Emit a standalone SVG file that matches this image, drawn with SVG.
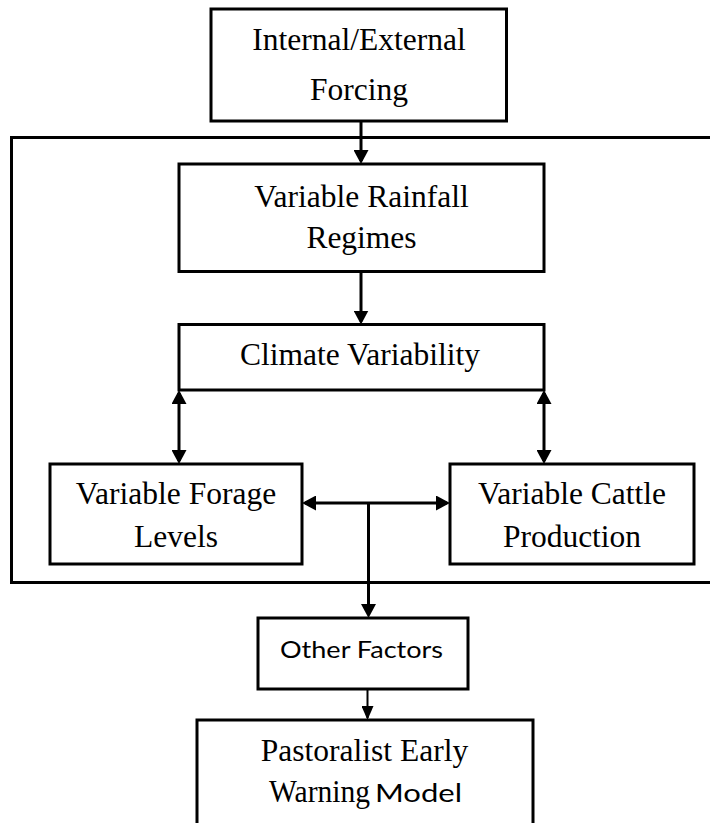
<svg xmlns="http://www.w3.org/2000/svg" width="710" height="823" viewBox="0 0 710 823">
<style>
.box{fill:#fff;stroke:#000;stroke-width:3}
.frame{fill:none;stroke:#000;stroke-width:3}
.t{font-family:"Liberation Serif","Times New Roman",serif;font-size:31.5px;fill:#000;text-anchor:middle}
.s{font-family:Lato,"Open Sans",sans-serif;fill:#000}
.ln{stroke:#000;stroke-width:3;fill:none}
.ln2{stroke:#000;stroke-width:2;fill:none}
</style>
<defs>
<marker id="ah" viewBox="0 0 14 15" markerWidth="14" markerHeight="15" refX="11" refY="7.5" orient="auto-start-reverse" markerUnits="userSpaceOnUse">
<path d="M0,0 L14,7.5 L0,15 z" fill="#000"/>
</marker>
<marker id="ahs" viewBox="0 0 14 12" markerWidth="14" markerHeight="12" refX="12" refY="6" orient="auto" markerUnits="userSpaceOnUse">
<path d="M0,0 L14,6 L0,12 z" fill="#000"/>
</marker>
</defs>
<rect class="frame" x="11.5" y="137.5" width="710" height="445"/>
<g id="connectors">
<line class="ln" x1="361" y1="121" x2="361" y2="161" marker-end="url(#ah)"/>
<line class="ln" x1="361" y1="271.5" x2="361" y2="321.5" marker-end="url(#ah)"/>
<line class="ln" x1="179" y1="393" x2="179" y2="461" marker-start="url(#ah)" marker-end="url(#ah)"/>
<line class="ln" x1="544" y1="393" x2="544" y2="461" marker-start="url(#ah)" marker-end="url(#ah)"/>
<line class="ln" x1="305" y1="503" x2="447" y2="503" marker-start="url(#ah)" marker-end="url(#ah)"/>
<line class="ln" x1="368.5" y1="503" x2="368.5" y2="615" marker-end="url(#ah)"/>
<line class="ln2" x1="367.5" y1="689" x2="367.5" y2="718" marker-end="url(#ahs)"/>
</g>
<g id="forcing">
<rect class="box" x="211" y="9" width="295.5" height="112"/>
<text class="t" x="359" y="50">Internal/External</text>
<text class="t" x="359" y="100">Forcing</text>
</g>
<g id="rainfall">
<rect class="box" x="179" y="164" width="365" height="107.5"/>
<text class="t" x="361.5" y="207">Variable Rainfall</text>
<text class="t" x="361.5" y="248">Regimes</text>
</g>
<g id="climate">
<rect class="box" x="179" y="324.5" width="365" height="65.5"/>
<text class="t" x="360" y="365">Climate Variability</text>
</g>
<g id="forage">
<rect class="box" x="50" y="464" width="252" height="100"/>
<text class="t" x="176" y="504">Variable Forage</text>
<text class="t" x="176" y="547">Levels</text>
</g>
<g id="cattle">
<rect class="box" x="450" y="464" width="244" height="100"/>
<text class="t" x="572" y="504">Variable Cattle</text>
<text class="t" x="572" y="547">Production</text>
</g>
<g id="other">
<rect class="box" x="258" y="618" width="210" height="71"/>
<text class="s" x="280" y="658" font-size="24" textLength="163" lengthAdjust="spacingAndGlyphs">Other Factors</text>
</g>
<g id="pewm">
<rect class="box" x="197" y="720" width="336" height="120"/>
<text class="t" x="364.5" y="761">Pastoralist Early</text>
<text class="t" x="269" y="802" style="text-anchor:start" textLength="101" lengthAdjust="spacingAndGlyphs">Warning</text>
<text class="s" x="375" y="802" font-size="25" textLength="87" lengthAdjust="spacingAndGlyphs">Model</text>
</g>
</svg>
